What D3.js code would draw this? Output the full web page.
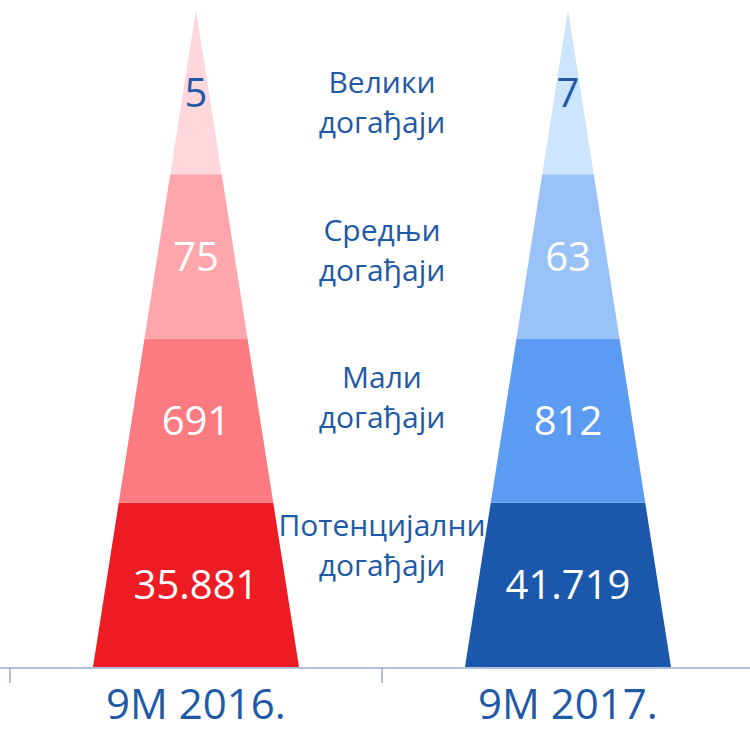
<!DOCTYPE html>
<html>
<head>
<meta charset="utf-8">
<script src="https://cdn.jsdelivr.net/npm/d3@7"></script>
<style>
  body { margin: 0; background: #fff; }
  text { font-family: "Open Sans", sans-serif; }
</style>
</head>
<body>
<div id="chart"></div>
<script>
// data, bottom level first
var categories = ["9M 2016.", "9M 2017."];
var levels = [["Потенцијални", "догађаји"], ["Мали", "догађаји"], ["Средњи", "догађаји"], ["Велики", "догађаји"]];
var values2016 = [35881, 691, 75, 5];
var values2017 = [41719, 812, 63, 7];

var colors = [
  ["#ED1C24", "#FC7B80", "#FFA5AC", "#FFD7DC"],
  ["#1B57AA", "#5B9CF2", "#99C2F8", "#CDE4FD"]
];
var blue = "#1F5AA6";

var width = 750, height = 732;

var svg = d3.select("#chart")
  .append("svg")
    .attr("width", width)
    .attr("height", height);

var x = d3.scaleBand()
  .domain(categories)
  .range([10, 754]);

// level index (0 = base, 4 = apex) to y
var y = d3.scaleLinear()
  .domain([0, levels.length])
  .range([667, 10]);

// half width of the pyramid at a level
var hw = d3.scaleLinear()
  .domain([0, levels.length])
  .range([103, 0]);

var fmt = d3.formatLocale({ decimal: ",", thousands: ".", grouping: [3], currency: ["", ""] }).format(",d");

var series = [values2016, values2017];

series.forEach(function(vals, s) {
  var cx = x(categories[s]) + x.bandwidth() / 2;
  var g = svg.append("g");

  g.selectAll("path")
    .data(vals)
    .enter().append("path")
      .attr("d", function(d, i) {
        var p = d3.path();
        p.moveTo(cx - hw(i), y(i));
        p.lineTo(cx + hw(i), y(i));
        p.lineTo(cx + hw(i + 1), y(i + 1));
        p.lineTo(cx - hw(i + 1), y(i + 1));
        p.closePath();
        return p.toString();
      })
      .style("fill", function(d, i) { return colors[s][i]; });

  g.selectAll("text")
    .data(vals)
    .enter().append("text")
      .attr("x", cx)
      .attr("y", function(d, i) { return (y(i) + y(i + 1)) / 2; })
      .attr("dy", "0.36em")
      .attr("text-anchor", "middle")
      .attr("font-size", 40)
      .attr("fill", function(d, i) { return i == levels.length - 1 ? blue : "white"; })
      .text(function(d) { return fmt(d); });
});

// level labels in the middle
var ly = d3.scaleLinear()
  .domain([0, levels.length - 1])
  .range([536, 93]);

var mid = x.range()[0] + (x.range()[1] - x.range()[0]) / 2;

var lab = svg.selectAll(".lab")
  .data(levels)
  .enter().append("text")
    .attr("class", "lab")
    .attr("text-anchor", "middle")
    .attr("font-size", 30)
    .attr("fill", blue);

lab.append("tspan")
  .attr("x", mid)
  .attr("y", function(d, i) { return ly(i); })
  .text(function(d) { return d[0]; });

lab.append("tspan")
  .attr("x", mid)
  .attr("y", function(d, i) { return ly(i) + 40; })
  .text(function(d) { return d[1]; });

// axis
var axisY = 668;
svg.append("line")
  .attr("x1", 0)
  .attr("x2", width)
  .attr("y1", axisY)
  .attr("y2", axisY)
  .style("stroke", "#9AA8D0")
  .style("stroke-width", 1.5);

var ticks = categories.map(function(c) { return x(c); }).concat([x.range()[1]]);
svg.selectAll(".tick")
  .data(ticks)
  .enter().append("line")
    .attr("class", "tick")
    .attr("x1", function(d) { return d; })
    .attr("x2", function(d) { return d; })
    .attr("y1", axisY)
    .attr("y2", axisY + 15)
    .style("stroke", "#9AA8D0")
    .style("stroke-width", 1.5);

svg.selectAll(".cat")
  .data(categories)
  .enter().append("text")
    .attr("class", "cat")
    .attr("x", function(d) { return x(d) + x.bandwidth() / 2; })
    .attr("y", 719)
    .attr("text-anchor", "middle")
    .attr("font-size", 42)
    .attr("fill", blue)
    .text(function(d) { return d; });
</script>
</body>
</html>
